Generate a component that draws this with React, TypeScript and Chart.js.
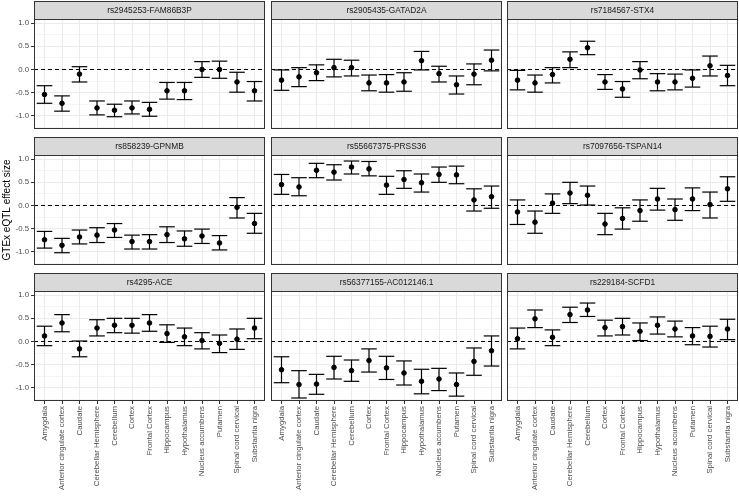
import React, { useEffect, useRef } from 'react';
import { Chart, registerables } from 'chart.js';
Chart.register(...registerables);

const tissues = [
  'Amygdala', 'Anterior cingulate cortex', 'Caudate', 'Cerebellar Hemisphere', 'Cerebellum',
  'Cortex', 'Frontal Cortex', 'Hippocampus', 'Hypothalamus', 'Nucleus accumbens',
  'Putamen', 'Spinal cord cervical', 'Substantia nigra',
];

const panelTitles = [
  'rs2945253-FAM86B3P', 'rs2905435-GATAD2A', 'rs7184567-STX4',
  'rs858239-GPNMB', 'rs55667375-PRSS36', 'rs7097656-TSPAN14',
  'rs4295-ACE', 'rs56377155-AC012146.1', 'rs229184-SCFD1',
];

const yTickValues = [-1.25, -1, -0.75, -0.5, -0.25, 0, 0.25, 0.5, 0.75, 1.0];
const yTitle = 'GTEx eQTL effect size';

// rs2945253-FAM86B3P
const estFAM86B3P = [-0.54, -0.73, -0.10, -0.83, -0.88, -0.83, -0.86, -0.46, -0.46, 0.00, 0.00, -0.27, -0.46];
const loFAM86B3P = [-0.73, -0.90, -0.27, -0.98, -1.02, -0.96, -1.01, -0.64, -0.65, -0.17, -0.19, -0.49, -0.68];
const hiFAM86B3P = [-0.35, -0.57, 0.06, -0.68, -0.75, -0.68, -0.71, -0.28, -0.28, 0.17, 0.18, -0.06, -0.26];
// rs2905435-GATAD2A
const estGATAD2A = [-0.23, -0.16, -0.07, 0.04, 0.04, -0.29, -0.29, -0.27, 0.19, -0.09, -0.33, -0.10, 0.20];
const loGATAD2A = [-0.45, -0.37, -0.24, -0.16, -0.14, -0.46, -0.49, -0.47, -0.01, -0.27, -0.53, -0.33, -0.03];
const hiGATAD2A = [-0.01, 0.04, 0.10, 0.22, 0.20, -0.12, -0.11, -0.07, 0.39, 0.07, -0.14, 0.12, 0.42];
// rs7184567-STX4
const estSTX4 = [-0.23, -0.29, -0.11, 0.22, 0.47, -0.27, -0.42, -0.01, -0.27, -0.27, -0.19, 0.08, -0.13];
const loSTX4 = [-0.44, -0.49, -0.29, 0.04, 0.32, -0.43, -0.60, -0.20, -0.46, -0.44, -0.38, -0.14, -0.35];
const hiSTX4 = [-0.02, -0.12, 0.04, 0.38, 0.61, -0.11, -0.26, 0.17, -0.09, -0.10, -0.01, 0.29, 0.09];
// rs858239-GPNMB
const estGPNMB = [-0.74, -0.86, -0.68, -0.64, -0.53, -0.78, -0.78, -0.63, -0.72, -0.66, -0.81, -0.04, -0.39];
const loGPNMB = [-0.92, -1.02, -0.83, -0.80, -0.69, -0.94, -0.94, -0.80, -0.88, -0.82, -0.96, -0.27, -0.60];
const hiGPNMB = [-0.56, -0.71, -0.53, -0.48, -0.39, -0.64, -0.63, -0.46, -0.55, -0.51, -0.65, 0.17, -0.17];
// rs55667375-PRSS36
const estPRSS36 = [0.45, 0.40, 0.76, 0.72, 0.83, 0.79, 0.44, 0.56, 0.49, 0.67, 0.66, 0.12, 0.19];
const loPRSS36 = [0.24, 0.21, 0.60, 0.55, 0.68, 0.64, 0.24, 0.37, 0.29, 0.50, 0.47, -0.12, -0.06];
const hiPRSS36 = [0.67, 0.60, 0.91, 0.88, 0.96, 0.95, 0.63, 0.75, 0.68, 0.83, 0.85, 0.36, 0.42];
// rs7097656-TSPAN14
const estTSPAN14 = [-0.14, -0.36, 0.05, 0.27, 0.22, -0.40, -0.28, -0.11, 0.14, -0.09, 0.14, 0.02, 0.36];
const loTSPAN14 = [-0.41, -0.60, -0.17, 0.04, 0.01, -0.63, -0.51, -0.34, -0.10, -0.32, -0.11, -0.27, 0.09];
const hiTSPAN14 = [0.12, -0.12, 0.25, 0.50, 0.42, -0.17, -0.05, 0.12, 0.37, 0.14, 0.38, 0.29, 0.62];
// rs4295-ACE
const estACE = [0.12, 0.40, -0.16, 0.29, 0.35, 0.35, 0.40, 0.17, 0.10, 0.02, -0.04, 0.05, 0.29];
const loACE = [-0.09, 0.21, -0.33, 0.12, 0.19, 0.18, 0.22, -0.02, -0.09, -0.16, -0.24, -0.17, 0.06];
const hiACE = [0.33, 0.58, 0.01, 0.47, 0.50, 0.50, 0.58, 0.36, 0.29, 0.19, 0.14, 0.27, 0.50];
// rs56377155-AC012146.1
const estAC012146 = [-0.61, -0.93, -0.92, -0.56, -0.63, -0.41, -0.57, -0.68, -0.86, -0.81, -0.93, -0.43, -0.20];
const loAC012146 = [-0.89, -1.22, -1.14, -0.81, -0.86, -0.66, -0.82, -0.94, -1.13, -1.06, -1.18, -0.73, -0.53];
const hiAC012146 = [-0.33, -0.63, -0.71, -0.32, -0.40, -0.16, -0.32, -0.42, -0.60, -0.58, -0.68, -0.14, 0.12];
// rs229184-SCFD1
const estSCFD1 = [0.06, 0.49, 0.09, 0.58, 0.68, 0.30, 0.32, 0.22, 0.35, 0.27, 0.12, 0.11, 0.27];
const loSCFD1 = [-0.16, 0.30, -0.09, 0.41, 0.54, 0.12, 0.14, 0.02, 0.16, 0.10, -0.07, -0.12, 0.04];
const hiSCFD1 = [0.29, 0.68, 0.25, 0.74, 0.83, 0.46, 0.50, 0.40, 0.53, 0.44, 0.30, 0.33, 0.48];

const panelEst = [estFAM86B3P, estGATAD2A, estSTX4, estGPNMB, estPRSS36, estTSPAN14, estACE, estAC012146, estSCFD1];
const panelLo = [loFAM86B3P, loGATAD2A, loSTX4, loGPNMB, loPRSS36, loTSPAN14, loACE, loAC012146, loSCFD1];
const panelHi = [hiFAM86B3P, hiGATAD2A, hiSTX4, hiGPNMB, hiPRSS36, hiTSPAN14, hiACE, hiAC012146, hiSCFD1];

const FONT = '"Liberation Sans", Arial, Helvetica, sans-serif';
const COL_LEFT = [34, 271, 507];
const ROW_TOP = [1, 137, 273];
const PANEL_W = 231;
const PANEL_H = 110;
const STRIP_H = 18;
const Y_AXIS_W = 34;
const X_AXIS_H = 95;

const isMajor = (v: number) => Math.abs(v * 2 - Math.round(v * 2)) < 1e-6;

const stripPlugin = {
  id: 'strip',
  afterDraw(chart: any, _args: any, opts: any) {
    const { ctx, chartArea } = chart;
    const { left, right, top, bottom } = chartArea;
    ctx.save();
    ctx.fillStyle = '#D9D9D9';
    ctx.fillRect(left, top - STRIP_H, right - left, STRIP_H);
    ctx.strokeStyle = '#333333';
    ctx.lineWidth = 1;
    ctx.strokeRect(left + 0.5, top - STRIP_H + 0.5, right - left - 1, STRIP_H);
    ctx.strokeRect(left + 0.5, top + 0.5, right - left - 1, bottom - top - 1);
    ctx.fillStyle = '#1A1A1A';
    ctx.font = `8.4px ${FONT}`;
    ctx.textAlign = 'center';
    ctx.textBaseline = 'middle';
    ctx.fillText(opts.text, (left + right) / 2, top - STRIP_H / 2 + 0.5);
    ctx.restore();
  },
};

function Panel({ idx }: { idx: number }) {
  const ref = useRef<HTMLCanvasElement>(null);
  const row = Math.floor(idx / 3);
  const col = idx % 3;
  const yW = col === 0 ? Y_AXIS_W : 0;
  const xH = row === 2 ? X_AXIS_H : 0;
  const W = yW + PANEL_W + 2;
  const H = STRIP_H + PANEL_H + xH;
  const left = COL_LEFT[col] - yW;
  const top = ROW_TOP[row];

  useEffect(() => {
    const est = panelEst[idx];
    const lo = panelLo[idx];
    const hi = panelHi[idx];
    const points = est.map((v, i) => ({ x: i, y: v }));
    const caps: any[] = [];
    const stems: any[] = [];
    est.forEach((_, i) => {
      caps.push({ x: i, y: lo[i] }, { x: i, y: hi[i] });
      stems.push({ x: i, y: lo[i] }, { x: i, y: hi[i] }, { x: i, y: null });
    });
    const zeroLine = [{ x: -0.6, y: 0 }, { x: 12.6, y: 0 }];

    const chart = new Chart(ref.current as HTMLCanvasElement, {
      type: 'line',
      data: {
        datasets: [
          { data: points, showLine: false, pointRadius: 2.3, pointBorderWidth: 1, pointBackgroundColor: '#000', pointBorderColor: '#000', order: 0 } as any,
          { data: caps, showLine: false, pointStyle: 'line', pointRadius: 7.8, pointBorderWidth: 1.2, pointBorderColor: '#000', order: 1 } as any,
          { data: stems, borderColor: '#000', borderWidth: 1.2, pointRadius: 0, spanGaps: false, order: 2 } as any,
          { data: zeroLine, borderColor: '#000', borderWidth: 1, borderDash: [4, 3], pointRadius: 0, order: 3 } as any,
        ],
      },
      options: {
        responsive: false,
        animation: false,
        events: [],
        layout: { autoPadding: false, padding: { top: STRIP_H, right: 2, left: 0, bottom: 0 } },
        plugins: {
          legend: { display: false },
          tooltip: { enabled: false },
          strip: { text: panelTitles[idx] },
        } as any,
        scales: {
          x: {
            type: 'linear',
            min: -0.6,
            max: 12.6,
            afterBuildTicks: (s: any) => { s.ticks = tissues.map((_, i) => ({ value: i })); },
            afterFit: (s: any) => { s.height = xH; s.paddingLeft = 0; s.paddingRight = 0; },
            border: { display: false },
            grid: { color: '#EBEBEB', lineWidth: 1, drawTicks: row === 2, tickLength: 3, tickColor: '#333333', tickWidth: 1 },
            ticks: {
              display: row === 2,
              autoSkip: false,
              minRotation: 90,
              maxRotation: 90,
              padding: 2,
              color: '#4D4D4D',
              font: { size: 7.8, family: FONT },
              callback: (v: any) => tissues[Math.round(Number(v))],
            },
          },
          y: {
            type: 'linear',
            min: -1.285,
            max: 1.09,
            afterBuildTicks: (s: any) => { s.ticks = yTickValues.map((v) => ({ value: v })); },
            afterFit: (s: any) => { s.width = yW; s.paddingTop = 0; s.paddingBottom = 0; },
            border: { display: false },
            grid: {
              color: '#EBEBEB',
              lineWidth: (c: any) => (isMajor(c.tick.value) ? 1 : 0.5),
              drawTicks: col === 0,
              tickLength: 3,
              tickColor: (c: any) => (isMajor(c.tick.value) ? '#333333' : 'rgba(0,0,0,0)'),
              tickWidth: 1,
            },
            title: {
              display: idx === 3,
              text: yTitle,
              color: '#000000',
              font: { size: 10, family: FONT },
              padding: { top: 1, bottom: 0 },
            },
            ticks: {
              display: col === 0,
              autoSkip: false,
              padding: 2,
              color: '#4D4D4D',
              font: { size: 7.8, family: FONT },
              callback: (v: any) => (isMajor(Number(v)) ? Number(v).toFixed(1) : ''),
            },
          },
        },
      } as any,
      plugins: [stripPlugin],
    });
    return () => chart.destroy();
  }, []);

  return (
    <canvas
      ref={ref}
      width={W}
      height={H}
      style={{ position: 'absolute', left, top, width: W, height: H }}
    />
  );
}

export default function App() {
  return (
    <div style={{ position: 'fixed', left: 0, top: 0, width: 739, height: 496, background: '#FFFFFF', overflow: 'hidden' }}>
      {panelTitles.map((_, i) => (
        <Panel key={i} idx={i} />
      ))}
    </div>
  );
}
